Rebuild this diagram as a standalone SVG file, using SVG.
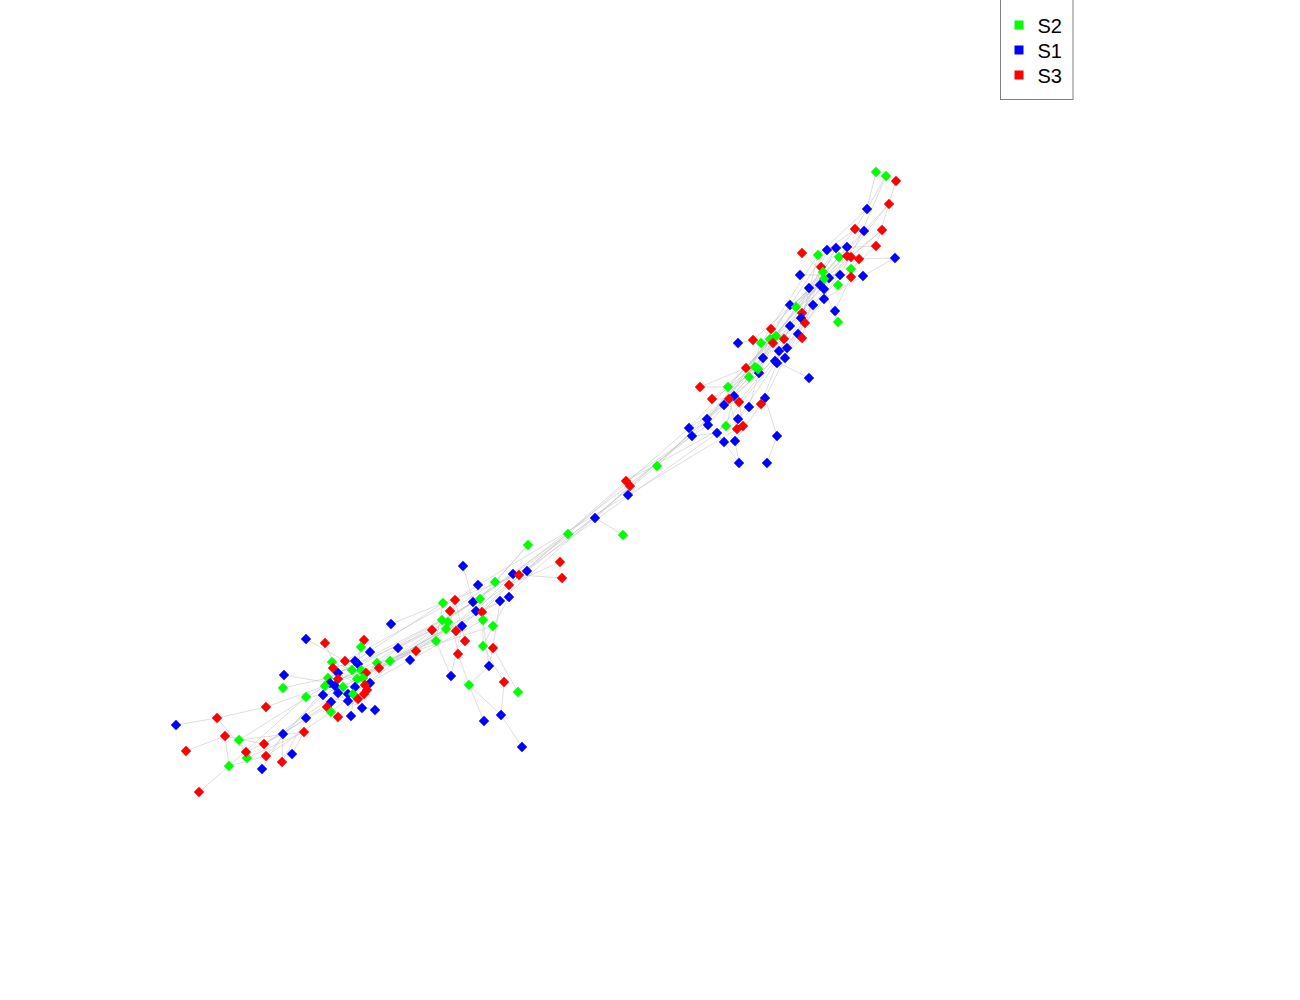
<svg xmlns="http://www.w3.org/2000/svg" xmlns:xlink="http://www.w3.org/1999/xlink" width="1300" height="1000" viewBox="0 0 1300 1000">
<style>
.g{fill:#00ff00}.b{fill:#0000ff}.r{fill:#ff0000}
#edges path{fill:none;stroke:#c4c4c4;stroke-width:0.7;stroke-opacity:0.8}
.lt{font-family:"Liberation Sans",Arial,sans-serif;font-size:20px;fill:#000}
</style>
<defs><path id="d" d="M0,-5.2L5.2,0L0,5.2L-5.2,0Z"/></defs>
<rect width="1300" height="1000" fill="#fff"/>
<g id="edges">
<path d="M876,172L867,209M886,176L867,209M896,181L876,246M889,204L864,231M867,209L855,229M882,230L851,257M895,258L863,276M895,258L859,259M876,246L851,269M802,253L823,272M800,275L840,275M864,231L839,257M855,229L827,250M889,204L847,256M886,176L851,257M876,246L836,248M867,209L818,255M882,230L824,279M864,231L820,285M855,229L809,288M851,269L813,305M863,276L824,299M840,275L790,305M847,247L796,307M836,248L802,313M827,250L801,318M851,257L805,323M859,259L835,311M835,311L838,322M824,289L838,322M829,278L790,326M818,255L798,334M821,267L802,338M839,257L771,329M847,256L753,340M847,256L738,419M839,257L707,419M851,257L689,428M827,250L724,405M836,248L749,377M818,255L761,343M824,279L746,368M820,285L728,387M813,305L712,399M801,318L692,436M805,323L717,433M790,326L707,419M796,307L755,367M790,305L770,339M802,313L776,336M809,288L784,339M824,299L787,348M813,305L779,351M798,334L785,358M802,338L777,363M790,326L775,361M771,329L763,358M753,340L738,343M761,343L749,377M770,339L746,368M776,336L758,369M773,343L759,373M784,339L729,399M787,348L734,396M779,351L739,402M785,358L765,398M777,363L761,404M775,361L809,378M763,358L749,407M746,368L700,387M755,367L728,387M758,369L712,399M759,373L724,405M749,377L708,425M700,387L728,387M712,399L729,399M734,396L726,426M729,399L737,429M739,402L743,426M724,405L689,428M749,407L738,419M765,398L777,436M761,404L735,441M777,436L767,463M739,463L717,433M739,463L735,441M724,442L708,425M692,436L717,433M707,419L595,518M689,428L568,534M692,436L513,574M708,425L626,481M724,405L630,486M717,433L519,575M755,367L657,466M657,466L527,571M626,481L509,585M630,486L500,601M628,495L478,585M595,518L473,602M595,518L623,535M568,534L456,631M568,534L432,630M560,562L509,585M562,578L519,575M528,545L495,582M528,545L480,599M737,429L628,495M726,426L626,481M513,574L390,661M527,571L416,651M509,597L379,668M500,601L366,673M480,599L352,670M473,602L361,670M455,600L345,661M443,603L355,661M432,630L338,673M436,641L330,683M442,620L328,678M446,629L343,687M448,622L365,685M416,651L357,679M391,624L443,603M398,648L448,622M410,660L483,620M390,661L476,611M377,663L493,626M379,668L462,626M463,566L473,602M495,582L450,611M478,585L455,600M509,585L482,612M519,575L443,603M513,574L476,611M509,597L483,646M500,601L493,648M443,603L436,641M455,600L465,641M450,611L458,654M476,611L493,626M482,612L489,666M483,620L483,646M442,620L456,631M462,626L451,676M458,654L469,685M469,685L489,666M469,685L501,715M489,666L493,648M504,682L501,715M504,682L483,646M501,715L522,747M484,721L469,685M518,692L493,648M451,676L436,641M306,639L345,661M325,643L338,673M364,640L352,670M361,647L358,664M370,652L355,661M398,648L366,673M415,651L379,668M410,660L365,685M390,661L357,679M377,663L363,678M332,662L352,670M345,661L370,683M355,661L333,668M358,664L328,678M333,668L365,685M338,673L367,690M352,670L335,686M361,670L325,686M366,673L330,683M328,678L348,694M338,679L364,694M330,683L358,699M357,679L323,695M363,678L338,693M370,683L331,702M325,686L348,701M343,687L327,707M335,686L362,708M365,685L331,712M367,690L338,717M355,687L351,716M323,695L375,710M306,697L338,693M306,718L331,702M284,675L330,683M283,688L328,678M306,697L229,766M304,732L247,758M283,734L262,769M283,734L246,752M338,693L264,744M330,683L266,756M325,686L239,740M306,718L282,762M304,732L292,754M283,734L282,762M266,707L217,718M217,718L176,725M217,718L246,752M225,736L186,751M225,736L229,766M239,740L304,732M229,766L199,792M229,766L266,756M266,707L325,686M225,736L264,744M239,740L247,758M327,707L264,744M331,712L266,756M323,695L283,734M284,733L306,718"/>
</g>
<g id="nodes">
<g id="n1" class="g" transform="translate(876,172)"><use href="#d"/></g>
<g id="n2" class="g" transform="translate(886,176)"><use href="#d"/></g>
<g id="n3" class="r" transform="translate(896,181)"><use href="#d"/></g>
<g id="n4" class="r" transform="translate(889,204)"><use href="#d"/></g>
<g id="n5" class="b" transform="translate(867,209)"><use href="#d"/></g>
<g id="n6" class="r" transform="translate(855,229)"><use href="#d"/></g>
<g id="n7" class="b" transform="translate(864,231)"><use href="#d"/></g>
<g id="n8" class="r" transform="translate(882,230)"><use href="#d"/></g>
<g id="n9" class="r" transform="translate(876,246)"><use href="#d"/></g>
<g id="n10" class="b" transform="translate(895,258)"><use href="#d"/></g>
<g id="n11" class="r" transform="translate(802,253)"><use href="#d"/></g>
<g id="n12" class="g" transform="translate(818,255)"><use href="#d"/></g>
<g id="n13" class="b" transform="translate(827,250)"><use href="#d"/></g>
<g id="n14" class="b" transform="translate(836,248)"><use href="#d"/></g>
<g id="n15" class="b" transform="translate(847,247)"><use href="#d"/></g>
<g id="n16" class="g" transform="translate(839,257)"><use href="#d"/></g>
<g id="n17" class="r" transform="translate(847,256)"><use href="#d"/></g>
<g id="n18" class="r" transform="translate(851,257)"><use href="#d"/></g>
<g id="n19" class="r" transform="translate(859,259)"><use href="#d"/></g>
<g id="n20" class="r" transform="translate(821,267)"><use href="#d"/></g>
<g id="n21" class="g" transform="translate(851,269)"><use href="#d"/></g>
<g id="n22" class="b" transform="translate(840,275)"><use href="#d"/></g>
<g id="n23" class="r" transform="translate(851,277)"><use href="#d"/></g>
<g id="n24" class="b" transform="translate(863,276)"><use href="#d"/></g>
<g id="n25" class="b" transform="translate(800,275)"><use href="#d"/></g>
<g id="n26" class="g" transform="translate(823,272)"><use href="#d"/></g>
<g id="n27" class="b" transform="translate(829,278)"><use href="#d"/></g>
<g id="n28" class="g" transform="translate(824,279)"><use href="#d"/></g>
<g id="n29" class="g" transform="translate(838,285)"><use href="#d"/></g>
<g id="n30" class="b" transform="translate(820,285)"><use href="#d"/></g>
<g id="n31" class="b" transform="translate(824,289)"><use href="#d"/></g>
<g id="n32" class="b" transform="translate(809,288)"><use href="#d"/></g>
<g id="n33" class="b" transform="translate(824,299)"><use href="#d"/></g>
<g id="n34" class="b" transform="translate(813,305)"><use href="#d"/></g>
<g id="n35" class="b" transform="translate(790,305)"><use href="#d"/></g>
<g id="n36" class="g" transform="translate(796,307)"><use href="#d"/></g>
<g id="n37" class="r" transform="translate(802,313)"><use href="#d"/></g>
<g id="n38" class="b" transform="translate(801,318)"><use href="#d"/></g>
<g id="n39" class="r" transform="translate(805,323)"><use href="#d"/></g>
<g id="n40" class="b" transform="translate(835,311)"><use href="#d"/></g>
<g id="n41" class="g" transform="translate(838,322)"><use href="#d"/></g>
<g id="n42" class="b" transform="translate(790,326)"><use href="#d"/></g>
<g id="n43" class="b" transform="translate(798,334)"><use href="#d"/></g>
<g id="n44" class="r" transform="translate(802,338)"><use href="#d"/></g>
<g id="n45" class="r" transform="translate(771,329)"><use href="#d"/></g>
<g id="n46" class="r" transform="translate(753,340)"><use href="#d"/></g>
<g id="n47" class="b" transform="translate(738,343)"><use href="#d"/></g>
<g id="n48" class="g" transform="translate(761,343)"><use href="#d"/></g>
<g id="n49" class="g" transform="translate(770,339)"><use href="#d"/></g>
<g id="n50" class="g" transform="translate(776,336)"><use href="#d"/></g>
<g id="n51" class="r" transform="translate(773,343)"><use href="#d"/></g>
<g id="n52" class="r" transform="translate(784,339)"><use href="#d"/></g>
<g id="n53" class="b" transform="translate(779,351)"><use href="#d"/></g>
<g id="n54" class="b" transform="translate(787,348)"><use href="#d"/></g>
<g id="n55" class="b" transform="translate(785,358)"><use href="#d"/></g>
<g id="n56" class="b" transform="translate(777,363)"><use href="#d"/></g>
<g id="n57" class="b" transform="translate(775,361)"><use href="#d"/></g>
<g id="n58" class="b" transform="translate(763,358)"><use href="#d"/></g>
<g id="n59" class="b" transform="translate(809,378)"><use href="#d"/></g>
<g id="n60" class="r" transform="translate(746,368)"><use href="#d"/></g>
<g id="n61" class="g" transform="translate(755,367)"><use href="#d"/></g>
<g id="n62" class="b" transform="translate(759,373)"><use href="#d"/></g>
<g id="n63" class="g" transform="translate(758,369)"><use href="#d"/></g>
<g id="n64" class="g" transform="translate(749,377)"><use href="#d"/></g>
<g id="n65" class="r" transform="translate(700,387)"><use href="#d"/></g>
<g id="n66" class="g" transform="translate(728,387)"><use href="#d"/></g>
<g id="n67" class="b" transform="translate(734,396)"><use href="#d"/></g>
<g id="n68" class="r" transform="translate(729,399)"><use href="#d"/></g>
<g id="n69" class="r" transform="translate(739,402)"><use href="#d"/></g>
<g id="n70" class="r" transform="translate(712,399)"><use href="#d"/></g>
<g id="n71" class="b" transform="translate(724,405)"><use href="#d"/></g>
<g id="n72" class="b" transform="translate(749,407)"><use href="#d"/></g>
<g id="n73" class="b" transform="translate(765,398)"><use href="#d"/></g>
<g id="n74" class="r" transform="translate(761,404)"><use href="#d"/></g>
<g id="n75" class="b" transform="translate(738,419)"><use href="#d"/></g>
<g id="n76" class="b" transform="translate(707,419)"><use href="#d"/></g>
<g id="n77" class="b" transform="translate(708,425)"><use href="#d"/></g>
<g id="n78" class="g" transform="translate(726,426)"><use href="#d"/></g>
<g id="n79" class="r" transform="translate(737,429)"><use href="#d"/></g>
<g id="n80" class="r" transform="translate(743,426)"><use href="#d"/></g>
<g id="n81" class="b" transform="translate(689,428)"><use href="#d"/></g>
<g id="n82" class="b" transform="translate(692,436)"><use href="#d"/></g>
<g id="n83" class="b" transform="translate(717,433)"><use href="#d"/></g>
<g id="n84" class="b" transform="translate(724,442)"><use href="#d"/></g>
<g id="n85" class="b" transform="translate(735,441)"><use href="#d"/></g>
<g id="n86" class="b" transform="translate(777,436)"><use href="#d"/></g>
<g id="n87" class="b" transform="translate(739,463)"><use href="#d"/></g>
<g id="n88" class="b" transform="translate(767,463)"><use href="#d"/></g>
<g id="n89" class="g" transform="translate(657,466)"><use href="#d"/></g>
<g id="n90" class="r" transform="translate(626,481)"><use href="#d"/></g>
<g id="n91" class="r" transform="translate(630,486)"><use href="#d"/></g>
<g id="n92" class="b" transform="translate(628,495)"><use href="#d"/></g>
<g id="n93" class="b" transform="translate(595,518)"><use href="#d"/></g>
<g id="n94" class="g" transform="translate(623,535)"><use href="#d"/></g>
<g id="n95" class="g" transform="translate(568,534)"><use href="#d"/></g>
<g id="n96" class="r" transform="translate(560,562)"><use href="#d"/></g>
<g id="n97" class="r" transform="translate(562,578)"><use href="#d"/></g>
<g id="n98" class="g" transform="translate(528,545)"><use href="#d"/></g>
<g id="n99" class="b" transform="translate(463,566)"><use href="#d"/></g>
<g id="n100" class="g" transform="translate(495,582)"><use href="#d"/></g>
<g id="n101" class="b" transform="translate(478,585)"><use href="#d"/></g>
<g id="n102" class="r" transform="translate(509,585)"><use href="#d"/></g>
<g id="n103" class="b" transform="translate(513,574)"><use href="#d"/></g>
<g id="n104" class="b" transform="translate(527,571)"><use href="#d"/></g>
<g id="n105" class="r" transform="translate(519,575)"><use href="#d"/></g>
<g id="n106" class="b" transform="translate(509,597)"><use href="#d"/></g>
<g id="n107" class="b" transform="translate(500,601)"><use href="#d"/></g>
<g id="n108" class="g" transform="translate(443,603)"><use href="#d"/></g>
<g id="n109" class="r" transform="translate(455,600)"><use href="#d"/></g>
<g id="n110" class="r" transform="translate(450,611)"><use href="#d"/></g>
<g id="n111" class="b" transform="translate(473,602)"><use href="#d"/></g>
<g id="n112" class="g" transform="translate(480,599)"><use href="#d"/></g>
<g id="n113" class="b" transform="translate(476,611)"><use href="#d"/></g>
<g id="n114" class="r" transform="translate(482,612)"><use href="#d"/></g>
<g id="n115" class="g" transform="translate(483,620)"><use href="#d"/></g>
<g id="n116" class="g" transform="translate(493,626)"><use href="#d"/></g>
<g id="n117" class="g" transform="translate(442,620)"><use href="#d"/></g>
<g id="n118" class="g" transform="translate(448,622)"><use href="#d"/></g>
<g id="n119" class="g" transform="translate(446,629)"><use href="#d"/></g>
<g id="n120" class="r" transform="translate(432,630)"><use href="#d"/></g>
<g id="n121" class="b" transform="translate(462,626)"><use href="#d"/></g>
<g id="n122" class="r" transform="translate(456,631)"><use href="#d"/></g>
<g id="n123" class="g" transform="translate(436,641)"><use href="#d"/></g>
<g id="n124" class="r" transform="translate(465,641)"><use href="#d"/></g>
<g id="n125" class="g" transform="translate(483,646)"><use href="#d"/></g>
<g id="n126" class="r" transform="translate(493,648)"><use href="#d"/></g>
<g id="n127" class="r" transform="translate(458,654)"><use href="#d"/></g>
<g id="n128" class="b" transform="translate(489,666)"><use href="#d"/></g>
<g id="n129" class="b" transform="translate(451,676)"><use href="#d"/></g>
<g id="n130" class="g" transform="translate(469,685)"><use href="#d"/></g>
<g id="n131" class="r" transform="translate(504,682)"><use href="#d"/></g>
<g id="n132" class="g" transform="translate(518,692)"><use href="#d"/></g>
<g id="n133" class="b" transform="translate(501,715)"><use href="#d"/></g>
<g id="n134" class="b" transform="translate(484,721)"><use href="#d"/></g>
<g id="n135" class="b" transform="translate(522,747)"><use href="#d"/></g>
<g id="n136" class="r" transform="translate(416,651)"><use href="#d"/></g>
<g id="n137" class="b" transform="translate(391,624)"><use href="#d"/></g>
<g id="n138" class="b" transform="translate(306,639)"><use href="#d"/></g>
<g id="n139" class="r" transform="translate(325,643)"><use href="#d"/></g>
<g id="n140" class="r" transform="translate(364,640)"><use href="#d"/></g>
<g id="n141" class="g" transform="translate(361,647)"><use href="#d"/></g>
<g id="n142" class="b" transform="translate(370,652)"><use href="#d"/></g>
<g id="n143" class="b" transform="translate(398,648)"><use href="#d"/></g>
<g id="n144" class="b" transform="translate(410,660)"><use href="#d"/></g>
<g id="n145" class="g" transform="translate(390,661)"><use href="#d"/></g>
<g id="n146" class="g" transform="translate(377,663)"><use href="#d"/></g>
<g id="n147" class="r" transform="translate(379,668)"><use href="#d"/></g>
<g id="n148" class="g" transform="translate(332,662)"><use href="#d"/></g>
<g id="n149" class="r" transform="translate(345,661)"><use href="#d"/></g>
<g id="n150" class="b" transform="translate(355,661)"><use href="#d"/></g>
<g id="n151" class="b" transform="translate(358,664)"><use href="#d"/></g>
<g id="n152" class="r" transform="translate(333,668)"><use href="#d"/></g>
<g id="n153" class="b" transform="translate(338,673)"><use href="#d"/></g>
<g id="n154" class="g" transform="translate(352,670)"><use href="#d"/></g>
<g id="n155" class="g" transform="translate(361,670)"><use href="#d"/></g>
<g id="n156" class="r" transform="translate(366,673)"><use href="#d"/></g>
<g id="n157" class="g" transform="translate(328,678)"><use href="#d"/></g>
<g id="n158" class="r" transform="translate(338,679)"><use href="#d"/></g>
<g id="n159" class="b" transform="translate(330,683)"><use href="#d"/></g>
<g id="n160" class="g" transform="translate(357,679)"><use href="#d"/></g>
<g id="n161" class="g" transform="translate(363,678)"><use href="#d"/></g>
<g id="n162" class="b" transform="translate(370,683)"><use href="#d"/></g>
<g id="n163" class="g" transform="translate(325,686)"><use href="#d"/></g>
<g id="n164" class="b" transform="translate(335,686)"><use href="#d"/></g>
<g id="n165" class="g" transform="translate(343,687)"><use href="#d"/></g>
<g id="n166" class="b" transform="translate(355,687)"><use href="#d"/></g>
<g id="n167" class="r" transform="translate(365,685)"><use href="#d"/></g>
<g id="n168" class="r" transform="translate(367,690)"><use href="#d"/></g>
<g id="n169" class="b" transform="translate(323,695)"><use href="#d"/></g>
<g id="n170" class="b" transform="translate(338,693)"><use href="#d"/></g>
<g id="n171" class="b" transform="translate(348,694)"><use href="#d"/></g>
<g id="n172" class="g" transform="translate(353,694)"><use href="#d"/></g>
<g id="n173" class="r" transform="translate(364,694)"><use href="#d"/></g>
<g id="n174" class="g" transform="translate(306,697)"><use href="#d"/></g>
<g id="n175" class="b" transform="translate(331,702)"><use href="#d"/></g>
<g id="n176" class="b" transform="translate(348,701)"><use href="#d"/></g>
<g id="n177" class="r" transform="translate(358,699)"><use href="#d"/></g>
<g id="n178" class="r" transform="translate(327,707)"><use href="#d"/></g>
<g id="n179" class="g" transform="translate(331,712)"><use href="#d"/></g>
<g id="n180" class="b" transform="translate(362,708)"><use href="#d"/></g>
<g id="n181" class="b" transform="translate(375,710)"><use href="#d"/></g>
<g id="n182" class="r" transform="translate(338,717)"><use href="#d"/></g>
<g id="n183" class="b" transform="translate(351,716)"><use href="#d"/></g>
<g id="n184" class="b" transform="translate(306,718)"><use href="#d"/></g>
<g id="n185" class="b" transform="translate(284,675)"><use href="#d"/></g>
<g id="n186" class="g" transform="translate(283,688)"><use href="#d"/></g>
<g id="n187" class="r" transform="translate(266,707)"><use href="#d"/></g>
<g id="n188" class="r" transform="translate(217,718)"><use href="#d"/></g>
<g id="n189" class="b" transform="translate(176,725)"><use href="#d"/></g>
<g id="n190" class="r" transform="translate(225,736)"><use href="#d"/></g>
<g id="n191" class="g" transform="translate(239,740)"><use href="#d"/></g>
<g id="n192" class="r" transform="translate(186,751)"><use href="#d"/></g>
<g id="n193" class="r" transform="translate(264,744)"><use href="#d"/></g>
<g id="n194" class="g" transform="translate(247,758)"><use href="#d"/></g>
<g id="n195" class="r" transform="translate(246,752)"><use href="#d"/></g>
<g id="n196" class="r" transform="translate(266,756)"><use href="#d"/></g>
<g id="n197" class="b" transform="translate(283,734)"><use href="#d"/></g>
<g id="n198" class="r" transform="translate(304,732)"><use href="#d"/></g>
<g id="n199" class="b" transform="translate(292,754)"><use href="#d"/></g>
<g id="n200" class="r" transform="translate(282,762)"><use href="#d"/></g>
<g id="n201" class="b" transform="translate(262,769)"><use href="#d"/></g>
<g id="n202" class="g" transform="translate(229,766)"><use href="#d"/></g>
<g id="n203" class="r" transform="translate(199,792)"><use href="#d"/></g>
</g>
<g id="legend">
<rect x="1000.5" y="-1" width="72.5" height="100.5" fill="#fff" stroke="#808080" stroke-width="1"/>
<rect x="1014.5" y="20.5" width="9" height="9" class="g"/>
<rect x="1014.5" y="45.5" width="9" height="9" class="b"/>
<rect x="1014.5" y="70.5" width="9" height="9" class="r"/>
<text x="1037.5" y="32.5" class="lt">S2</text>
<text x="1037.5" y="57.5" class="lt">S1</text>
<text x="1037.5" y="82.5" class="lt">S3</text>
</g>
</svg>
